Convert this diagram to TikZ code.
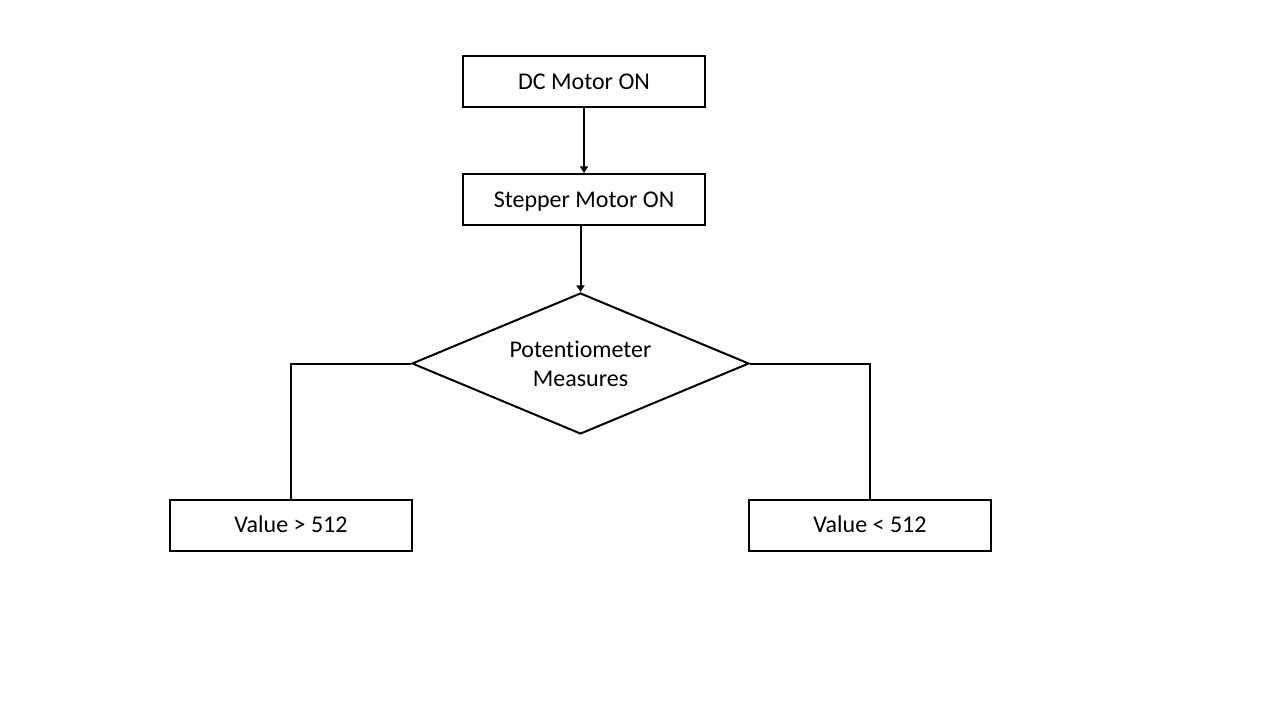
\documentclass[tikz,border=0pt]{standalone}
\usepackage{fontspec}
\setmainfont{Carlito}[Ligatures=NoCommon]
\usetikzlibrary{shapes.geometric,arrows.meta}
\begin{document}
\begin{tikzpicture}[x=0.75pt,y=-0.75pt,
  box/.style={draw=black,line width=1.5pt,fill=white,minimum width=181.5pt,minimum height=38.25pt,inner sep=0pt,text height=14.5pt,text depth=2.7pt,font=\fontsize{18}{21.6}\selectfont},
  dec/.style={draw=black,line width=1.5pt,diamond,aspect=2.39,minimum width=252.75pt,minimum height=105.75pt,inner sep=0pt,align=center,font=\fontsize{18}{21.6}\selectfont},
  conn/.style={line width=1.5pt},
  arr/.style={conn,-{Triangle[length=5pt,width=6pt]}}]
\useasboundingbox[fill=white] (0,0) rectangle (1280,720);
\node[box] (dc) at (584,81.5) {DC Motor ON};
\node[box] (st) at (584,199.5) {Stepper Motor ON};
\node[dec] (pm) at (580.5,363.5) {Potentiometer\\Measures};
\node[box] (gt) at (291,525) {Value > 512};
\node[box] (lt) at (870,525) {Value < 512};
\draw[arr] (dc) -- (st);
\draw[arr] (st.south -| pm.north) -- (pm.north);
\draw[conn] (pm.west) -| (gt.north);
\draw[conn] (pm.east) -| (lt.north);
\end{tikzpicture}
\end{document}
